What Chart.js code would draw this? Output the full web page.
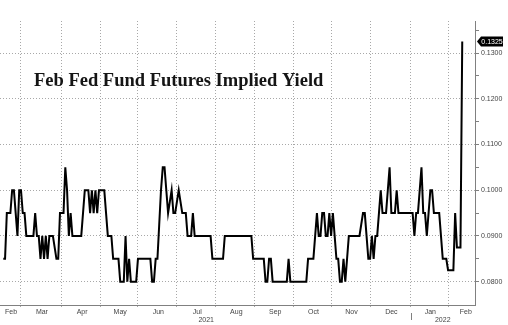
<!DOCTYPE html>
<html>
<head>
<meta charset="utf-8">
<script src="https://cdn.jsdelivr.net/npm/chart.js@4.4.1/dist/chart.umd.min.js"></script>
<style>
  html, body { margin: 0; padding: 0; background: #fff; }
</style>
</head>
<body>
<canvas id="myChart" width="508" height="325"></canvas>
<script>
// x values are weekday counts from 1 Feb 2021
const firstDay = 10;

// implied yield, one value per weekday, split by month
const feb21 = [0.085, 0.085, 0.095, 0.095, 0.095, 0.1, 0.1, 0.095, 0.09, 0.1];
const mar21 = [0.1, 0.095, 0.095, 0.09, 0.09, 0.09, 0.09, 0.09, 0.095, 0.09, 0.09, 0.085, 0.09, 0.085, 0.09, 0.085, 0.09, 0.09, 0.09, 0.0875, 0.085, 0.085, 0.095];
const apr21 = [0.095, 0.095, 0.105, 0.1, 0.09, 0.095, 0.09, 0.09, 0.09, 0.09, 0.09, 0.09, 0.095, 0.1, 0.1, 0.1, 0.095, 0.1, 0.095, 0.1, 0.095, 0.1];
const may21 = [0.1, 0.1, 0.1, 0.095, 0.09, 0.09, 0.09, 0.085, 0.085, 0.085, 0.085, 0.08, 0.08, 0.08, 0.09, 0.08, 0.085, 0.08, 0.08, 0.08, 0.08];
const jun21 = [0.085, 0.085, 0.085, 0.085, 0.085, 0.085, 0.085, 0.085, 0.08, 0.08, 0.085, 0.085, 0.0925, 0.1, 0.105, 0.105, 0.1, 0.095, 0.0975, 0.1, 0.095, 0.095];
const jul21 = [0.0975, 0.1, 0.0975, 0.095, 0.095, 0.095, 0.09, 0.09, 0.09, 0.095, 0.09, 0.09, 0.09, 0.09, 0.09, 0.09, 0.09, 0.09, 0.09, 0.09, 0.085, 0.085];
const aug21 = [0.085, 0.085, 0.085, 0.085, 0.085, 0.09, 0.09, 0.09, 0.09, 0.09, 0.09, 0.09, 0.09, 0.09, 0.09, 0.09, 0.09, 0.09, 0.09, 0.09, 0.09, 0.085];
const sep21 = [0.085, 0.085, 0.085, 0.085, 0.085, 0.085, 0.08, 0.08, 0.085, 0.085, 0.08, 0.08, 0.08, 0.08, 0.08, 0.08, 0.08, 0.08, 0.08, 0.085, 0.08, 0.08];
const oct21 = [0.08, 0.08, 0.08, 0.08, 0.08, 0.08, 0.08, 0.08, 0.085, 0.085, 0.085, 0.085, 0.09, 0.095, 0.09, 0.09, 0.095, 0.095, 0.09, 0.09, 0.095];
const nov21 = [0.09, 0.095, 0.09, 0.085, 0.085, 0.08, 0.08, 0.085, 0.08, 0.085, 0.09, 0.09, 0.09, 0.09, 0.09, 0.09, 0.09, 0.0925, 0.095, 0.095, 0.09, 0.085];
const dec21 = [0.085, 0.09, 0.085, 0.09, 0.09, 0.095, 0.1, 0.095, 0.095, 0.095, 0.1, 0.105, 0.095, 0.095, 0.095, 0.1, 0.095, 0.095, 0.095, 0.095, 0.095, 0.095, 0.095];
const jan22 = [0.095, 0.095, 0.09, 0.095, 0.095, 0.1, 0.105, 0.095, 0.095, 0.09, 0.095, 0.1, 0.1, 0.095, 0.095, 0.095, 0.095, 0.09, 0.085, 0.085, 0.085];
const feb22 = [0.0825, 0.0825, 0.0825, 0.0825, 0.095, 0.0875, 0.0875, 0.0875, 0.1325];

// first weekday of each month (grid lines)
const monthStarts = [20, 43, 65, 86, 108, 130, 152, 174, 195, 217, 240, 261];
// month names and where they sit
const monthNames = ["Feb", "Mar", "Apr", "May", "Jun", "Jul", "Aug", "Sep", "Oct", "Nov", "Dec", "Jan", "Feb"];
const monthMids = [14.4, 31.8, 54.5, 76, 97.5, 119.5, 141.5, 163.5, 185, 206.5, 229, 251, 271];
const yearNames = ["2021", "2022"];
const yearMids = [124.5, 258];
const yearBreak = 240;

const yTicks = [0.08, 0.085, 0.09, 0.095, 0.1, 0.105, 0.11, 0.115, 0.12, 0.125, 0.13, 0.135];
const chartTitle = "Feb Fed Fund Futures Implied Yield";

const yieldValues = [].concat(feb21, mar21, apr21, may21, jun21, jul21, aug21, sep21, oct21, nov21, dec21, jan22, feb22);
const puntos = yieldValues.map((v, i) => ({ x: firstDay + i, y: v }));

const xTickValues = [...monthStarts, ...monthMids, ...yearMids];
const xTickText = [...monthStarts.map(() => ""), ...monthNames, ...yearNames.map(y => ["", y])];

const gridGris = "#a8a8a8";
const ejeGris = "#808080";
const textoGris = "#444";

function esMayor(v) {
  return Math.abs(Math.round(v * 100) - v * 100) < 1e-6;
}

// title, year separator and last value tag
const extras = {
  id: "extras",
  afterDraw(chart) {
    const { ctx, chartArea, scales } = chart;
    ctx.save();
    ctx.font = 'bold 18.5px "Liberation Serif"';
    ctx.fillStyle = "#151515";
    ctx.textBaseline = "alphabetic";
    ctx.fillText(chartTitle, chartArea.left + 34, chartArea.top + 65);

    const xb = Math.round(scales.x.getPixelForValue(yearBreak)) + 0.5;
    ctx.strokeStyle = ejeGris;
    ctx.lineWidth = 1;
    ctx.beginPath();
    ctx.moveTo(xb, chartArea.bottom + 8);
    ctx.lineTo(xb, chartArea.bottom + 15);
    ctx.stroke();

    const last = yieldValues[yieldValues.length - 1];
    const yl = scales.y.getPixelForValue(last);
    const x1 = chartArea.right + 2;
    const x2 = chartArea.right + 28;
    ctx.fillStyle = "#000";
    ctx.beginPath();
    ctx.moveTo(x1, yl);
    ctx.lineTo(x1 + 4, yl - 5);
    ctx.lineTo(x2, yl - 5);
    ctx.lineTo(x2, yl + 5);
    ctx.lineTo(x1 + 4, yl + 5);
    ctx.closePath();
    ctx.fill();
    ctx.fillStyle = "#fff";
    ctx.font = '7px "Liberation Sans"';
    ctx.textAlign = "center";
    ctx.textBaseline = "middle";
    ctx.fillText(last.toFixed(4), (x1 + 4 + x2) / 2, yl + 0.5);
    ctx.restore();
  }
};

new Chart(document.getElementById("myChart"), {
  type: "line",
  data: {
    datasets: [{
      data: puntos,
      borderColor: "#000",
      borderWidth: 2,
      pointRadius: 0,
      tension: 0,
      fill: false
    }]
  },
  options: {
    responsive: false,
    animation: false,
    devicePixelRatio: 1,
    layout: { padding: { top: 21, left: 0, right: 0, bottom: 0 } },
    plugins: { legend: { display: false }, tooltip: { enabled: false } },
    scales: {
      x: {
        type: "linear",
        position: "bottom",
        min: 8.15,
        max: 276.2,
        afterBuildTicks: s => { s.ticks = xTickValues.map(v => ({ value: v })); },
        afterFit: s => { s.height = 20; s.paddingLeft = 0; s.paddingRight = 0; },
        ticks: {
          autoSkip: false,
          maxRotation: 0,
          padding: 0,
          color: textoGris,
          font: { family: "Liberation Sans", size: 7, lineHeight: 1.15 },
          callback: (v, i) => xTickText[i]
        },
        grid: {
          color: c => monthStarts.includes(c.tick.value) ? gridGris : "rgba(0,0,0,0)",
          tickColor: c => monthStarts.includes(c.tick.value) ? gridGris : "rgba(0,0,0,0)",
          tickLength: 3,
          tickBorderDash: [1, 2]
        },
        border: { display: true, color: ejeGris, width: 1, dash: [1, 2] }
      },
      y: {
        type: "linear",
        position: "right",
        min: 0.0749,
        max: 0.137,
        afterBuildTicks: s => { s.ticks = yTicks.map(v => ({ value: v })); },
        afterFit: s => { s.width = 33; s.paddingTop = 0; s.paddingBottom = 0; },
        ticks: {
          padding: 2,
          color: textoGris,
          font: { family: "Liberation Sans", size: 7 },
          callback: v => esMayor(v) ? v.toFixed(4) : ""
        },
        grid: {
          color: c => esMayor(c.tick.value) ? gridGris : "rgba(0,0,0,0)",
          tickColor: ejeGris,
          tickLength: 4
        },
        border: { display: true, color: ejeGris, width: 1, dash: [1, 2] }
      }
    }
  },
  plugins: [extras]
});
</script>
</body>
</html>
